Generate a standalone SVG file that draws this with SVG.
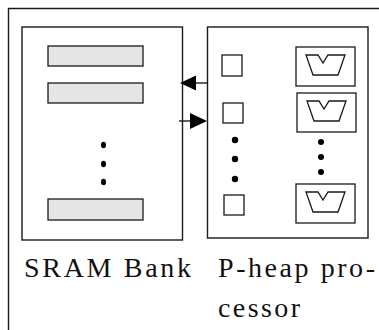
<svg xmlns="http://www.w3.org/2000/svg" width="379" height="330" viewBox="0 0 379 330">
  <style>
    .box { fill: #fff; stroke: #1a1a1a; stroke-width: 1.4; }
    .row { fill: #e6e6e6; stroke: #1a1a1a; stroke-width: 1.3; }
    .cell { fill: #fff; stroke: #1a1a1a; stroke-width: 1.3; }
    .dot { fill: #000; }
    .link { stroke: #1a1a1a; stroke-width: 1.4; fill: none; }
    .head { fill: #000; }
    .label { font-family: "Liberation Serif", "Times New Roman", serif; font-size: 28px; fill: #111; }
  </style>
  <defs>
    <!-- queue slot: framed trapezoid with a notch in its top edge -->
    <g id="slot">
      <rect class="cell" x="0" y="0" width="59" height="39"/>
      <path class="cell" d="M10,8 H22 L27,16 L32,8 H49 L42,28 H17 Z"/>
    </g>
  </defs>

  <!-- outer frame (left and top edges) -->
  <path class="link" d="M8.5,330 V8.5 H379" stroke-width="1.5"/>

  <g id="sram-bank">
    <rect class="box" x="22" y="27" width="160.5" height="213"/>
    <rect class="row" x="48" y="46" width="95" height="20"/>
    <rect class="row" x="48" y="83" width="95" height="20"/>
    <ellipse class="dot" cx="103.5" cy="145" rx="2.5" ry="3.3"/>
    <ellipse class="dot" cx="103.5" cy="164" rx="2.5" ry="3.3"/>
    <ellipse class="dot" cx="103.5" cy="182" rx="2.5" ry="3.3"/>
    <rect class="row" x="48" y="199" width="95" height="21"/>
    <text class="label" x="24" y="277" textLength="167" lengthAdjust="spacing">SRAM Bank</text>
  </g>

  <g id="pheap-processor">
    <rect class="box" x="207.5" y="27" width="160.5" height="211"/>
    <rect class="cell" x="222" y="55" width="20" height="21"/>
    <rect class="cell" x="223" y="103" width="20" height="20"/>
    <circle class="dot" cx="235" cy="140" r="3.2"/>
    <circle class="dot" cx="235" cy="159" r="3.2"/>
    <circle class="dot" cx="235" cy="179" r="3.2"/>
    <rect class="cell" x="224" y="195" width="20" height="20"/>
    <use href="#slot" x="296" y="47"/>
    <use href="#slot" x="297" y="93"/>
    <circle class="dot" cx="321" cy="142" r="3"/>
    <circle class="dot" cx="321" cy="157" r="3"/>
    <circle class="dot" cx="321" cy="172" r="3"/>
    <use href="#slot" x="296" y="184"/>
    <text class="label" x="218" y="277" textLength="157" lengthAdjust="spacing">P-heap pro-</text>
    <text class="label" x="218" y="317" textLength="82" lengthAdjust="spacing">cessor</text>
  </g>

  <g id="connectors">
    <line class="link" x1="207.5" y1="83" x2="194" y2="83"/>
    <polygon class="head" points="180,83 196,75.5 196,90.5"/>
    <line class="link" x1="179" y1="121" x2="192" y2="121"/>
    <polygon class="head" points="207,121 190,113 190,129"/>
  </g>
</svg>
